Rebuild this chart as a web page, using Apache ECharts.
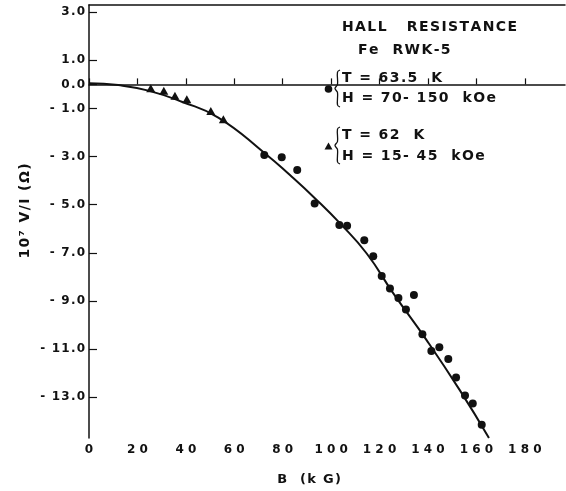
<!DOCTYPE html>
<html><head><meta charset="utf-8">
<script src="https://cdn.jsdelivr.net/npm/echarts@6/dist/echarts.min.js"></script>
<style>html,body{margin:0;padding:0;background:#fff}#c{width:566px;height:491px}</style>
</head><body><div id="c"></div>
<script>
// ---- data ----
const yTicks = [3, 1, 0, -1, -3, -5, -7, -9, -11, -13];
const xTicks = [0, 20, 40, 60, 80, 100, 120, 140, 160, 180];

// triangles: T = 62 K, H = 15-45 kOe
const triB = [25.5, 30.9, 35.5, 40.4, 50.3, 55.5];
const triV = [-0.16, -0.26, -0.47, -0.62, -1.11, -1.45];

// dots: T = 63.5 K, H = 70-150 kOe
const dotB = [72.4, 79.6, 86.0, 93.2, 103.4, 106.6, 113.7, 117.4, 120.9, 124.3, 127.8, 134.2, 130.9, 137.7, 141.4, 144.7, 148.4, 151.6, 155.3, 158.5, 162.2];
const dotV = [-2.94, -3.03, -3.56, -4.95, -5.85, -5.88, -6.48, -7.14, -7.97, -8.49, -8.88, -8.76, -9.36, -10.39, -11.08, -10.93, -11.42, -12.19, -12.93, -13.27, -14.15];

// fitted curve
const fitB = [0, 12.1, 24.5, 38.3, 53.4, 72.7, 83.0, 93.4, 103.7, 114.7, 125.7, 139.5, 153.2, 165.2];
const fitV = [0.05, -0.03, -0.26, -0.72, -1.38, -2.87, -3.77, -4.74, -5.78, -7.03, -8.69, -10.64, -12.72, -14.70];

const titleText = 'HALL   RESISTANCE';
const subText = 'Fe  RWK-5';
const leg1a = 'T = 63.5  K';
const leg1b = 'H = 70- 150  kOe';
const leg2a = 'T = 62  K';
const leg2b = 'H = 15- 45  kOe';
const yName = '10⁷ V/I (Ω)';
const xName = 'B  (k G)';

// ---- helpers ----
const HS = '\u200A';
function ls(s) { return s.split('').join(HS); }
const zip = (a, b) => a.map((v, i) => [v, b[i]]);
const INK = '#111';
const FF = 'DejaVu Sans';
function brace(x, y, h) {
  const m = y + h / 2;
  return {
    type: 'polyline',
    shape: { points: [[x + 5, y], [x + 2.5, y + 2], [x + 2.5, m - 4], [x, m], [x + 2.5, m + 4], [x + 2.5, y + h - 2], [x + 5, y + h]], smooth: 0.35 },
    style: { stroke: INK, fill: null, lineWidth: 1.3 }
  };
}

const chart = echarts.init(document.getElementById('c'));
chart.setOption({
  backgroundColor: '#fff',
  animation: false,
  grid: { left: 89, right: 1, top: 5, bottom: 53, containLabel: false },
  xAxis: [{
    type: 'value', min: 0, max: 196.6,
    axisLine: { show: true, lineStyle: { color: INK, width: 1.5 } },
    axisTick: { show: true, inside: true, length: 6, customValues: xTicks, lineStyle: { color: INK, width: 1.2 } },
    axisLabel: { customValues: xTicks, margin: 6, color: INK, fontFamily: FF, fontWeight: 'bold', fontSize: 12,
      formatter: v => String(v).split('').join(' ') },
    splitLine: { show: false }
  }, {
    type: 'value', min: 0, max: 196.6, position: 'top',
    axisLine: { show: true, onZero: false, lineStyle: { color: INK, width: 1.5 } },
    axisTick: { show: false }, axisLabel: { show: false }, splitLine: { show: false }
  }],
  yAxis: {
    type: 'value', min: -14.7, max: 3.3,
    axisLine: { show: true, onZero: false, lineStyle: { color: INK, width: 1.5 } },
    axisTick: { show: true, inside: true, length: 8, customValues: yTicks, lineStyle: { color: INK, width: 1.2 } },
    axisLabel: { customValues: yTicks, margin: 4, color: INK, fontFamily: FF, fontWeight: 'bold', fontSize: 12,
      formatter: v => v < 0 ? ls('- ' + Math.abs(v).toFixed(1)) : ls(v.toFixed(1)) },
    splitLine: { show: false }
  },
  series: [{
    type: 'line', data: zip(fitB, fitV), smooth: 0.5, showSymbol: false,
    lineStyle: { color: INK, width: 2 }, z: 2
  }, {
    type: 'scatter', data: zip(dotB, dotV), symbol: 'circle', symbolSize: 8,
    itemStyle: { color: INK, opacity: 1 }, z: 3
  }, {
    type: 'scatter', data: zip(triB, triV), symbol: 'triangle', symbolSize: [9, 8],
    itemStyle: { color: INK, opacity: 1 }, z: 3
  }],
  graphic: [
    { type: 'text', x: 342, y: 27, style: { text: ls(titleText), fontFamily: FF, fontWeight: 'bold', fontSize: 14, fill: INK, align: 'left', verticalAlign: 'middle' } },
    { type: 'text', x: 358, y: 50, style: { text: ls(subText), fontFamily: FF, fontWeight: 'bold', fontSize: 14, fill: INK, align: 'left', verticalAlign: 'middle' } },
    { type: 'text', x: 342, y: 78.5, style: { text: ls(leg1a), fontFamily: FF, fontWeight: 'bold', fontSize: 14, fill: INK, align: 'left', verticalAlign: 'middle' } },
    { type: 'text', x: 342, y: 98.5, style: { text: ls(leg1b), fontFamily: FF, fontWeight: 'bold', fontSize: 14, fill: INK, align: 'left', verticalAlign: 'middle' } },
    { type: 'text', x: 342, y: 135, style: { text: ls(leg2a), fontFamily: FF, fontWeight: 'bold', fontSize: 14, fill: INK, align: 'left', verticalAlign: 'middle' } },
    { type: 'text', x: 342, y: 156, style: { text: ls(leg2b), fontFamily: FF, fontWeight: 'bold', fontSize: 14, fill: INK, align: 'left', verticalAlign: 'middle' } },
    { type: 'circle', shape: { cx: 328.5, cy: 89, r: 3.8 }, style: { fill: INK } },
    { type: 'polygon', shape: { points: [[324.5, 149.5], [332.5, 149.5], [328.5, 142.5]] }, style: { fill: INK } },
    brace(335, 70, 37),
    brace(335, 127, 37),
    { type: 'text', x: 25, y: 211, rotation: Math.PI / 2, style: { text: ls(yName), fontFamily: FF, fontWeight: 'bold', fontSize: 14, fill: INK, align: 'center', verticalAlign: 'middle' } },
    { type: 'text', x: 309, y: 480, style: { text: ls(xName), fontFamily: FF, fontWeight: 'bold', fontSize: 13, fill: INK, align: 'center', verticalAlign: 'middle' } }
  ]
});
</script>
</body></html>
